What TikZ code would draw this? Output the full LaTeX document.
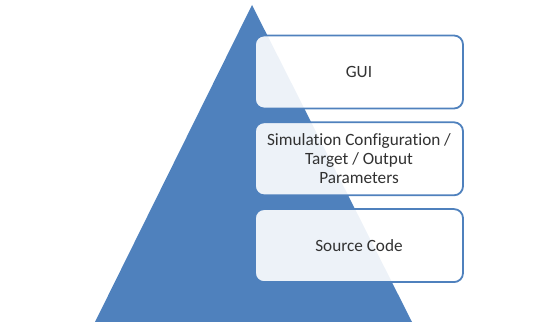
\documentclass[tikz,border=0pt]{standalone}
\usepackage{fontspec}
\setmainfont{Carlito}[Ligatures=NoCommon]
\usepackage{xcolor}
\usepackage{tikz}
\usetikzlibrary{positioning}
\definecolor{pyramidBlue}{RGB}{79, 129, 189}
\definecolor{layerText}{RGB}{50, 50, 50}

\begin{document}
\begin{tikzpicture}[x=1pt, y=1pt,
    layer/.style={draw=pyramidBlue, line width=1.8pt, rounded corners=9pt,
        fill=white, fill opacity=0.9, text opacity=1, text=layerText,
        minimum width=208pt, minimum height=73pt, align=center,
        font=\fontsize{17.2}{18.8}\selectfont}]
    \useasboundingbox (0,0) rectangle (554,326);
    % Pyramid
    \fill[pyramidBlue] (252,321) -- (95,4) -- (412,4) -- cycle;
    % Layers
    \node[layer] (gui) at (359,254) {GUI};
    \node[layer, below=12pt of gui] (config) {Simulation Configuration /\\Target / Output\\Parameters};
    \node[layer, below=12pt of config] (source) {Source Code};
\end{tikzpicture}
\end{document}
